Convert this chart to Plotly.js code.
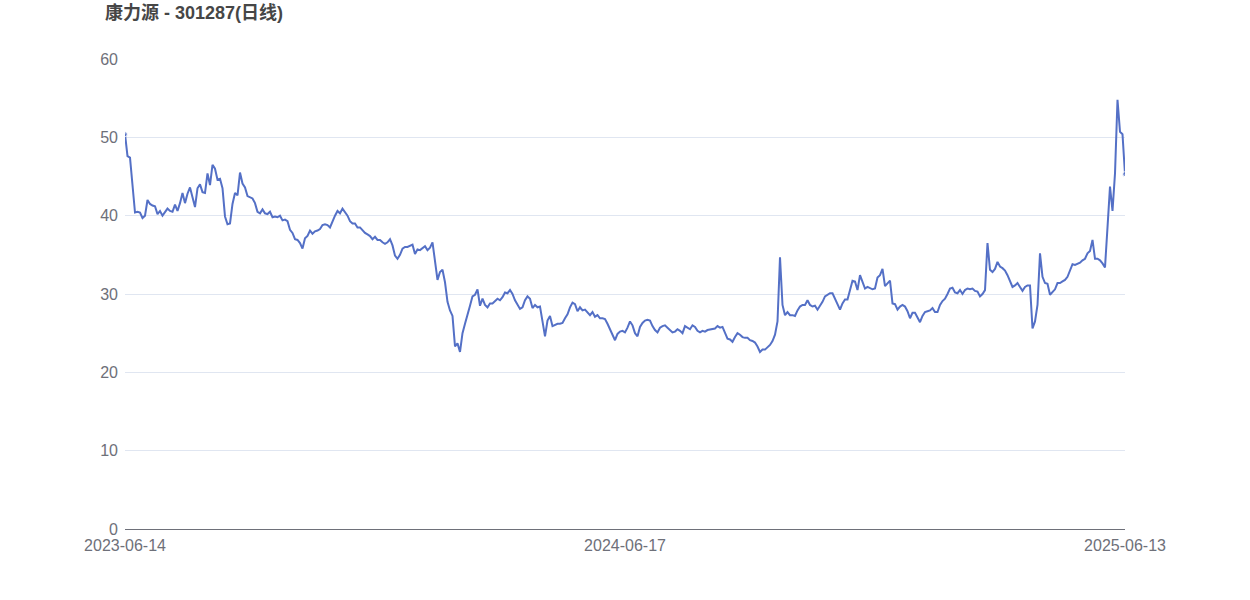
<!DOCTYPE html>
<html>
<head>
<meta charset="utf-8">
<script src="https://cdn.plot.ly/plotly-3.0.1.min.js"></script>
<style>html,body{margin:0;padding:0;background:#fff;}</style>
</head>
<body>
<div id="chart" style="width:1250px;height:600px;"></div>
<script>
const chartTitle = '康力源 - 301287(日线)';
const dateLabels = ['2023-06-14', '2024-06-17', '2025-06-13'];
const yTickValues = [0, 10, 20, 30, 40, 50, 60];

// daily close (evenly spaced trading days)
const closes = [
50.4,47.6,47.4,44.0,40.4,40.5,40.4,39.7,40.0,42.0,
41.5,41.3,41.2,40.2,40.6,40.0,40.4,40.9,40.6,40.5,
41.4,40.6,41.6,42.9,41.6,42.8,43.6,42.2,41.1,43.5,
44.0,43.0,42.9,45.4,43.9,46.5,46.0,44.6,44.7,43.5,
39.9,38.9,39.0,41.5,42.9,42.6,45.5,44.1,43.6,42.5,
42.3,42.2,41.6,40.5,40.3,40.8,40.3,40.2,40.5,39.8,
39.9,39.8,40.0,39.4,39.5,39.3,38.2,37.8,37.0,36.9,
36.5,35.8,37.1,37.4,38.1,37.7,38.0,38.1,38.3,38.8,
38.9,38.8,38.5,39.3,40.0,40.6,40.3,40.9,40.5,40.0,
39.3,39.0,39.0,38.5,38.5,38.1,37.8,37.6,37.4,37.0,
37.3,36.9,36.9,36.6,36.4,36.6,37.0,36.2,34.9,34.5,
35.0,35.8,36.0,36.0,36.2,36.3,35.1,35.7,35.6,35.8,
36.1,35.6,35.9,36.6,34.3,31.8,32.8,33.1,31.5,29.0,
27.9,27.2,23.3,23.7,22.6,25.0,26.2,27.2,28.5,29.7,
29.9,30.6,28.5,29.4,28.6,28.3,28.8,28.8,29.1,29.4,
29.2,29.6,30.2,30.1,30.5,30.0,29.2,28.6,28.1,28.3,
29.2,29.7,29.4,28.2,28.6,28.3,28.4,26.5,24.6,26.6,
27.2,25.9,26.0,26.2,26.2,26.3,26.9,27.4,28.3,28.9,
28.7,27.8,28.3,27.9,28.0,27.7,27.3,27.7,27.1,27.3,
26.9,26.9,26.8,26.2,25.5,24.7,24.1,24.9,25.2,25.3,
25.1,25.7,26.5,26.0,25.0,24.6,25.8,26.3,26.6,26.7,
26.6,25.9,25.4,25.1,25.7,25.9,26.0,25.7,25.4,25.1,
25.2,25.5,25.3,25.0,25.9,25.7,25.5,26.0,25.8,25.3,
25.1,25.3,25.2,25.4,25.5,25.6,25.6,25.9,25.7,25.8,
25.1,24.3,24.2,23.9,24.5,25.0,24.8,24.5,24.4,24.4,
24.1,24.0,23.8,23.3,22.6,22.9,22.9,23.2,23.5,24.0,
24.8,26.5,34.7,28.6,27.3,27.7,27.3,27.3,27.2,27.9,
28.4,28.6,28.6,29.2,28.6,28.4,28.5,28.0,28.5,29.0,
29.7,29.9,30.1,30.1,29.4,28.8,28.0,28.8,29.3,29.3,
30.5,31.7,31.6,30.5,32.4,31.6,30.7,30.9,30.7,30.6,
30.7,32.1,32.4,33.2,31.0,31.3,31.7,28.8,28.7,28.0,
28.4,28.6,28.4,27.8,26.9,27.6,27.6,27.0,26.4,27.2,
27.7,27.8,27.9,28.2,27.7,27.7,28.6,29.1,29.4,30.0,
30.7,30.8,30.2,30.1,30.5,30.0,30.5,30.7,30.6,30.7,
30.4,30.3,29.7,30.0,30.5,36.5,33.1,32.8,33.2,34.1,
33.5,33.3,33.0,32.4,31.6,30.9,31.1,31.4,30.9,30.4,
30.9,31.1,31.1,25.6,26.5,28.6,35.2,32.2,31.4,31.3,
29.9,30.3,30.6,31.4,31.4,31.6,31.8,32.2,33.0,33.8,
33.7,33.8,34.0,34.3,34.5,35.2,35.5,36.9,34.5,34.5,
34.3,33.9,33.4,38.5,43.7,40.6,45.4,54.8,50.7,50.4,
45.3
];

const n = closes.length;
const xIdx = closes.map((_, i) => i);
const tickIdx = [0, Math.round((n - 1) / 2), n - 1];
const markerSizes = closes.map((_, i) => (i === 0 || i === n - 1) ? 5 : 0);

const lineColor = '#5470c6';
const textColor = '#6e7079';
const fontFamily = 'Liberation Sans, Arial, Noto Sans CJK SC, sans-serif';

const trace = {
  x: xIdx,
  y: closes,
  type: 'scatter',
  mode: 'lines+markers',
  line: {color: lineColor, width: 2},
  marker: {color: lineColor, size: markerSizes},
  hoverinfo: 'skip'
};

const layout = {
  width: 1250,
  height: 600,
  paper_bgcolor: '#ffffff',
  plot_bgcolor: '#ffffff',
  margin: {l: 125, r: 125, t: 59, b: 71},
  showlegend: false,
  title: {
    text: chartTitle,
    xref: 'container', yref: 'container',
    x: 105 / 1250, xanchor: 'left',
    y: 1 - 13 / 600, yanchor: 'middle',
    font: {family: fontFamily, size: 18, color: '#464646', weight: 'bold'}
  },
  xaxis: {
    range: [0, n - 1],
    tickmode: 'array',
    tickvals: tickIdx,
    ticktext: dateLabels,
    showgrid: false,
    zeroline: false,
    showline: true,
    linecolor: textColor,
    linewidth: 1,
    ticks: '',
    ticklabelstandoff: 2,
    tickfont: {family: fontFamily, size: 16, color: textColor},
    fixedrange: true
  },
  yaxis: {
    range: [0, 60],
    tickmode: 'array',
    tickvals: yTickValues,
    showgrid: true,
    gridcolor: '#e0e6f1',
    gridwidth: 1,
    zeroline: false,
    showline: false,
    ticks: '',
    ticklabelstandoff: 6,
    tickfont: {family: fontFamily, size: 16, color: textColor},
    fixedrange: true
  }
};

Plotly.newPlot('chart', [trace], layout, {staticPlot: true, displayModeBar: false});
</script>
</body>
</html>
